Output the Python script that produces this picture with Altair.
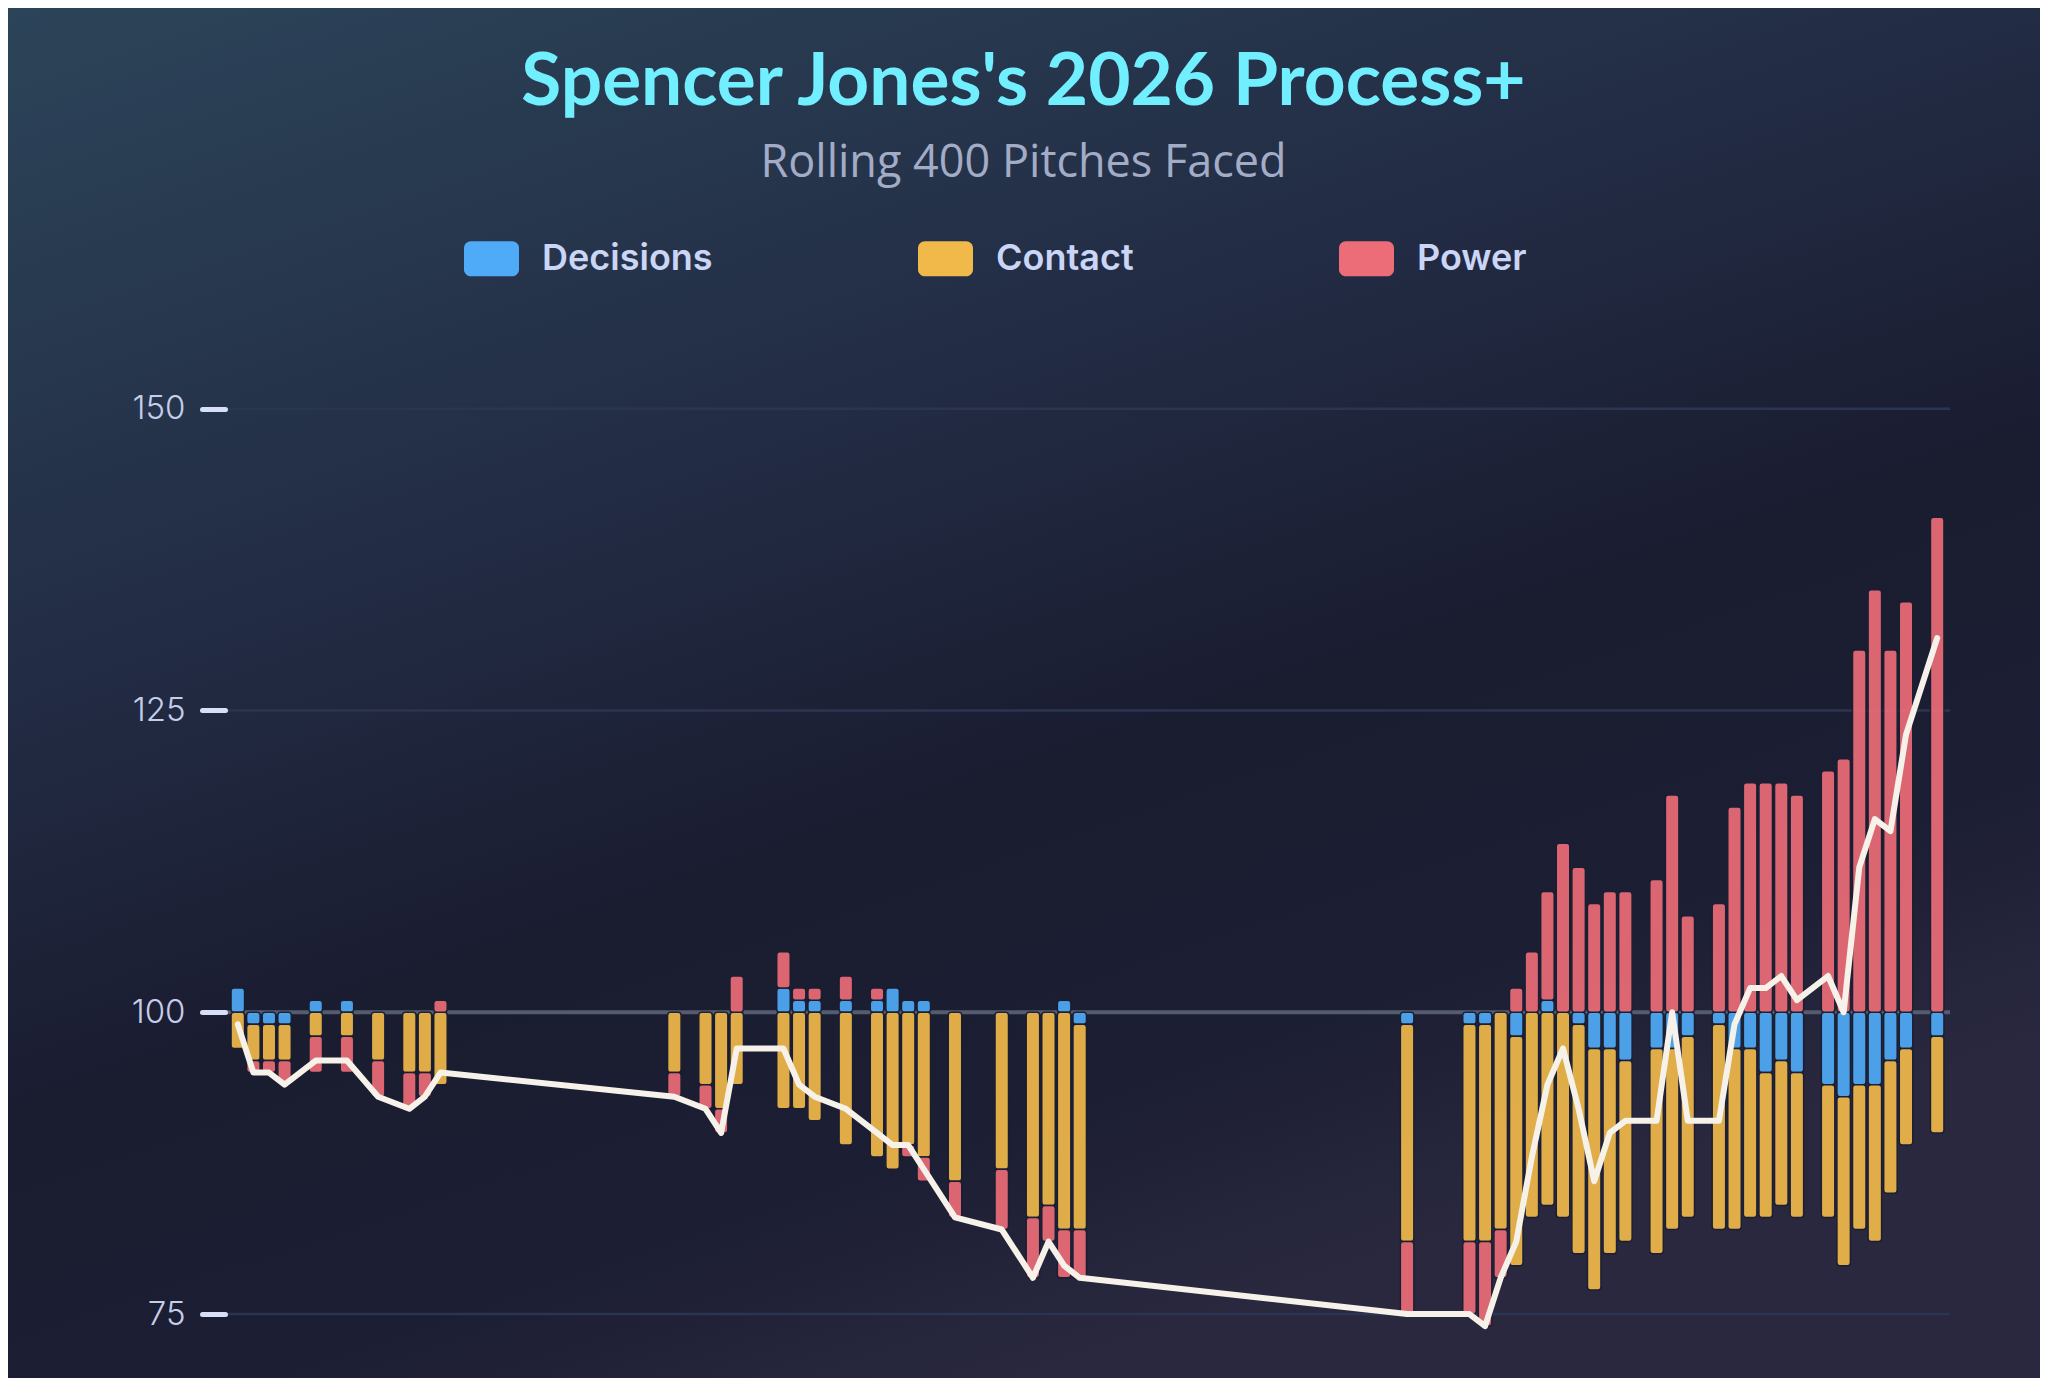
import pandas as pd
import altair as alt

# ==============================
#   DATA
# ==============================
# game day index within the season window, one bar per day played
days = [0, 1, 2, 3, 5, 7, 9, 11, 12, 13,
        28, 30, 31, 32, 35, 36, 37, 39, 41, 42, 43, 44, 46, 49, 51, 52, 53, 54,
        75, 79, 80, 81, 82, 83, 84, 85, 86, 87, 88, 89, 91, 92, 93,
        95, 96, 97, 98, 99, 100, 102, 103, 104, 105, 106, 107, 109]

# component deviations from 100
decisions = [2, -1, -1, -1, 1, 1, 0, 0, 0, 0,
             0, 0, 0, 0, 2, 1, 1, 1, 1, 2, 1, 1, 0, 0, 0, 0, 1, -1,
             -1, -1, -1, 0, -2, 0, 1, 0, -1, -3, -3, -4, -3, -3, -2,
             -1, -3, -3, -5, -4, -5, -6, -7, -6, -6, -4, -3, -2]
contact = [-3, -3, -3, -3, -2, -2, -4, -5, -5, -6,
           -5, -6, -8, -6, -8, -8, -9, -11, -12, -13, -11, -12, -14, -13, -17, -16, -18, -17,
           -18, -18, -18, -18, -19, -17, -16, -17, -19, -20, -17, -15, -17, -15, -15,
           -17, -15, -14, -12, -12, -12, -11, -14, -12, -13, -11, -8, -8]
power = [0, -1, -1, -2, -3, -3, -3, -3, -2, 1,
         -2, -2, -2, 3, 3, 1, 1, 2, 1, 0, -1, -2, -3, -5, -5, -3, -4, -4,
         -6, -6, -7, -4, 2, 5, 9, 14, 12, 9, 10, 10, 11, 18, 8,
         9, 17, 19, 19, 19, 18, 20, 21, 30, 35, 30, 34, 41]

# Process+ line
process_plus = [99, 95, 95, 94, 96, 96, 93, 92, 93, 95,
                93, 92, 90, 97, 97, 94, 93, 92, 90, 89, 89, 87, 83, 82, 78, 81, 79, 78,
                75, 75, 74, 78, 81, 88, 94, 97, 92, 86, 90, 91, 91, 100, 91,
                91, 99, 102, 102, 103, 101, 103, 100, 112, 116, 115, 123, 131]

components = ["Decisions", "Contact", "Power"]
component_colors = ["#4fabf7", "#f0b94a", "#ec6d78"]
y_ticks = [75, 100, 125, 150]
grid_lines = [75, 125, 150]
baseline = [100]

# ==============================
#   STACK AROUND 100
# ==============================
rows = []
for i, d in enumerate(days):
    up, down = 100, 100
    for name, vals in zip(components, [decisions, contact, power]):
        v = vals[i]
        if v == 0:
            continue
        if v > 0:
            rows.append({"day": d, "component": name, "y0": up, "y1": up + v})
            up += v
        else:
            rows.append({"day": d, "component": name, "y0": down, "y1": down + v})
            down += v
bars_df = pd.DataFrame(rows)
line_df = pd.DataFrame({"day": days, "process": process_plus})

# ==============================
#   LAYOUT
# ==============================
W, H = 1725, 1078
PAD = {"left": 217, "top": 292, "right": 90, "bottom": 0}
TOTAL_W = W + PAD["left"] + PAD["right"]
TOTAL_H = H + PAD["top"] + PAD["bottom"]
BG = "#1b1f33"

x_scale = alt.Scale(domain=[-0.5, 109.5], nice=False, zero=False)
y_scale = alt.Scale(domain=[69.7, 159.0], nice=False, zero=False)
y_axis = alt.Axis(
    values=y_ticks, title=None, grid=False, domain=False, zindex=1,
    tickSize=23, tickWidth=5, tickColor="#d6def8", tickCap="round",
    labelFont="Inter", labelFontSize=33, labelFontWeight=300,
    labelColor="#c5cdea", labelPadding=17,
)

bg_gradient = alt.LinearGradient(
    gradient="linear", x1=0, y1=0, x2=0.5, y2=1,
    stops=[alt.GradientStop(offset=0, color="#2c4459"),
           alt.GradientStop(offset=0.4, color="#222c44"),
           alt.GradientStop(offset=0.65, color="#1a1c30"),
           alt.GradientStop(offset=0.85, color="#1c1e33"),
           alt.GradientStop(offset=1, color="#29283f")],
)

background = alt.Chart(alt.Data(values=[{"bg": 1}])).mark_rect(fill=bg_gradient).encode(
    x=alt.value(-PAD["left"]), x2=alt.value(TOTAL_W - PAD["left"]),
    y=alt.value(-PAD["top"]), y2=alt.value(TOTAL_H - PAD["top"]),
)

grid = alt.Chart(pd.DataFrame({"v": grid_lines})).mark_rule(
    color="#2b3550", strokeWidth=2.5
).encode(y=alt.Y("v:Q", scale=y_scale, axis=y_axis))

base = alt.Chart(pd.DataFrame({"v": baseline})).mark_rule(
    color="#555c70", strokeWidth=4
).encode(y=alt.Y("v:Q", scale=y_scale, axis=y_axis))

swatch = ("M-0.75,-0.64 H0.75 A0.25,0.25 0 0 1 1,-0.39 V0.39 A0.25,0.25 0 0 1 0.75,0.64 "
          "H-0.75 A0.25,0.25 0 0 1 -1,0.39 V-0.39 A0.25,0.25 0 0 1 -0.75,-0.64 Z")

bars = alt.Chart(bars_df).mark_bar(
    size=13.5, cornerRadius=3, opacity=0.92, stroke=BG, strokeWidth=1.5
).encode(
    x=alt.X("day:Q", scale=x_scale, axis=None),
    y=alt.Y("y0:Q", scale=y_scale, axis=y_axis),
    y2="y1:Q",
    color=alt.Color("component:N",
                    scale=alt.Scale(domain=components, range=component_colors),
                    legend=alt.Legend(
                        title=None, orient="none", legendX=239, legendY=-69,
                        direction="horizontal", columnPadding=205, padding=0,
                        symbolType=swatch, symbolSize=3025, symbolOpacity=1,
                        symbolStrokeWidth=0, labelFont="Inter", labelFontSize=36,
                        labelFontWeight=600, labelColor="#cbd5f5",
                        labelOffset=23, labelLimit=400,
                    )),
)

line = alt.Chart(line_df).mark_line(
    color="#f6f1e9", strokeWidth=6, strokeCap="round", strokeJoin="round"
).encode(
    x=alt.X("day:Q", scale=x_scale, axis=None),
    y=alt.Y("process:Q", scale=y_scale, axis=y_axis),
)

chart = alt.layer(background, grid, base, bars, line).properties(
    width=W,
    height=H,
    padding=PAD,
    autosize=alt.AutoSizeParams(type="none"),
    background=BG,
    title=alt.TitleParams(
        text="Spencer Jones's 2026 Process+",
        subtitle="Rolling 400 Pitches Faced",
        font="Lato", fontSize=73, fontWeight="bold", color="#72efff",
        subtitleFont="Open Sans", subtitleFontSize=45, subtitleColor="#a3acc6",
        subtitlePadding=21, anchor="middle", dx=-64, offset=-178,
    ),
).configure_view(strokeWidth=0)

chart.save("out.html", embed_options={"renderer": "svg", "actions": False})
